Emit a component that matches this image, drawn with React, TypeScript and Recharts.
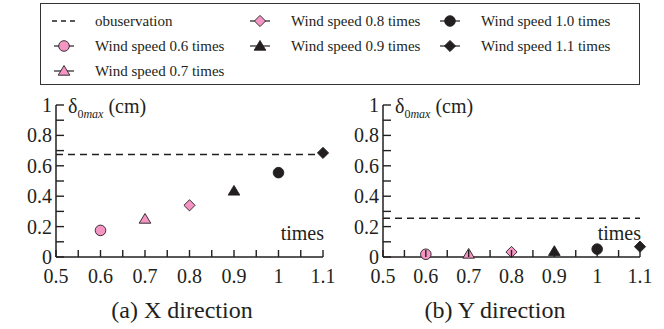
import React from 'react';
import { ScatterChart, Scatter, XAxis, YAxis, ReferenceLine } from 'recharts';

// ---------- data ----------
const windFactors = [0.6, 0.7, 0.8, 0.9, 1.0, 1.1];
const seriesNames = [
  'Wind speed 0.6 times',
  'Wind speed 0.7 times',
  'Wind speed 0.8 times',
  'Wind speed 0.9 times',
  'Wind speed 1.0 times',
  'Wind speed 1.1 times',
];
const xDirectionValues = [0.175, 0.25, 0.34, 0.435, 0.555, 0.685];
const yDirectionValues = [0.018, 0.02, 0.033, 0.038, 0.052, 0.068];
const observationX = 0.675;
const observationY = 0.255;
const observationName = 'obuservation';
const xTicks = [0.5, 0.55, 0.6, 0.65, 0.7, 0.75, 0.8, 0.85, 0.9, 0.95, 1.0, 1.05, 1.1];
const xTickLabels = ['0.5', '0.6', '0.7', '0.8', '0.9', '1', '1.1'];
const yTicks = [0, 0.1, 0.2, 0.3, 0.4, 0.5, 0.6, 0.7, 0.8, 0.9, 1.0];
const yTickLabels = ['0', '0.2', '0.4', '0.6', '0.8', '1'];
const subtitles = ['(a) X direction', '(b) Y direction'];
const xAxisName = 'times';

// ---------- styles ----------
const FONT = '"Liberation Serif", "Times New Roman", Times, "DejaVu Serif", serif';
const INK = '#231f20';
const PINK = '#f595c4';
const markerKinds = ['circle', 'triangle', 'diamond', 'triangle', 'circle', 'diamond'];
const markerFills = [PINK, PINK, PINK, INK, INK, INK];

const Marker = ({ cx, cy, kind, fill }: any) => {
  if (cx == null || cy == null) return null;
  const sw = 0.9;
  if (kind === 'circle') return <circle cx={cx} cy={cy} r={5.3} fill={fill} stroke={INK} strokeWidth={sw} />;
  if (kind === 'triangle')
    return (
      <polygon
        points={`${cx},${cy - 5.5} ${cx + 5.8},${cy + 4.2} ${cx - 5.8},${cy + 4.2}`}
        fill={fill}
        stroke={INK}
        strokeWidth={sw}
      />
    );
  return (
    <polygon
      points={`${cx},${cy - 5.6} ${cx + 5.6},${cy} ${cx},${cy + 5.6} ${cx - 5.6},${cy}`}
      fill={fill}
      stroke={INK}
      strokeWidth={sw}
    />
  );
};

const fmt = (v: number) => String(Number(v.toFixed(2)));

const XTick = (props: any) => {
  const { x, y, payload } = props;
  const label = fmt(payload.value);
  const major = xTickLabels.includes(label);
  return (
    <g>
      <line x1={x} y1={y} x2={x} y2={y - 7} stroke={INK} strokeWidth={1.4} />
      {major && (
        <text x={x} y={y + 26} textAnchor="middle" style={{ fontFamily: FONT, fontSize: 20 }} fill={INK}>
          {label}
        </text>
      )}
    </g>
  );
};

const YTick = (props: any) => {
  const { x, y, payload } = props;
  const label = fmt(payload.value);
  const major = yTickLabels.includes(label);
  return (
    <g>
      <line x1={x} y1={y} x2={x + 8} y2={y} stroke={INK} strokeWidth={1.4} />
      {major && (
        <text x={x - 4} y={y + 7} textAnchor="end" style={{ fontFamily: FONT, fontSize: 20 }} fill={INK}>
          {label}
        </text>
      )}
    </g>
  );
};

const YName = ({ viewBox }: any) => (
  <text x={viewBox.x + viewBox.width + 12} y={viewBox.y + 8} style={{ fontFamily: FONT, fontSize: 20 }} fill={INK}>
    <tspan>δ</tspan>
    <tspan style={{ fontSize: 12 }} dy={5}>0</tspan>
    <tspan style={{ fontSize: 12, fontStyle: 'italic' }}>max</tspan>
    <tspan dy={-5}> (cm)</tspan>
  </text>
);

const XName = ({ viewBox }: any) => (
  <text
    x={viewBox.x + viewBox.width + 1}
    y={viewBox.y - 17}
    textAnchor="end"
    style={{ fontFamily: FONT, fontSize: 20 }}
    fill={INK}
  >
    {xAxisName}
  </text>
);

const Panel = ({ values, obs, left, marginLeft, marginRight, width }: any) => (
  <ScatterChart
    width={width}
    height={329}
    margin={{ top: 105, bottom: 72 - 30, left: marginLeft - 40, right: marginRight }}
    style={{ position: 'absolute', left, top: 0 }}
  >
    <XAxis
      type="number"
      dataKey="x"
      domain={[0.5, 1.1]}
      ticks={xTicks}
      interval={0}
      height={30}
      tickSize={0}
      tickMargin={0}
      tickLine={false}
      axisLine={{ stroke: INK, strokeWidth: 1.5 }}
      tick={<XTick />}
      label={<XName />}
    />
    <YAxis
      type="number"
      dataKey="y"
      domain={[0, 1]}
      ticks={yTicks}
      interval={0}
      width={40}
      tickSize={0}
      tickMargin={0}
      tickLine={false}
      axisLine={{ stroke: INK, strokeWidth: 1.5 }}
      tick={<YTick />}
      label={<YName />}
    />
    <ReferenceLine y={obs} stroke={INK} strokeWidth={1.5} strokeDasharray="7 5" ifOverflow="extendDomain" />
    {windFactors.map((f, i) => (
      <Scatter
        key={seriesNames[i]}
        name={seriesNames[i]}
        data={[{ x: f, y: values[i] }]}
        isAnimationActive={false}
        shape={(p: any) => <Marker cx={p.cx} cy={p.cy} kind={markerKinds[i]} fill={markerFills[i]} />}
      />
    ))}
  </ScatterChart>
);

const LegendIcon = ({ kind, fill, dashed }: any) => (
  <svg width={26} height={14} style={{ display: 'block' }}>
    {dashed ? (
      <line x1={1} y1={7} x2={25} y2={7} stroke={INK} strokeWidth={1.4} strokeDasharray="5 4" />
    ) : (
      <>
        <line x1={3} y1={7} x2={23} y2={7} stroke={INK} strokeWidth={1.2} />
        <Marker cx={13} cy={7} kind={kind} fill={fill} />
      </>
    )}
  </svg>
);

const legendItems = [
  { name: observationName, dashed: true, col: 0, row: 0 },
  { name: seriesNames[0], i: 0, col: 0, row: 1 },
  { name: seriesNames[1], i: 1, col: 0, row: 2 },
  { name: seriesNames[2], i: 2, col: 1, row: 0 },
  { name: seriesNames[3], i: 3, col: 1, row: 1 },
  { name: seriesNames[4], i: 4, col: 2, row: 0 },
  { name: seriesNames[5], i: 5, col: 2, row: 1 },
];
const colX = [50, 246, 436];

const Legend = () => (
  <div
    style={{
      position: 'absolute',
      left: 40,
      top: 3,
      width: 598,
      height: 80,
      border: '1.5px solid #333',
      background: '#fff',
    }}
  >
    {legendItems.map((it: any) => (
      <div
        key={it.name}
        style={{
          position: 'absolute',
          left: colX[it.col] - 40,
          top: 8 + it.row * 25,
          display: 'flex',
          alignItems: 'center',
          height: 18,
          fontFamily: FONT,
          fontSize: 15,
          color: INK,
          whiteSpace: 'nowrap',
        }}
      >
        <LegendIcon dashed={it.dashed} kind={markerKinds[it.i]} fill={markerFills[it.i]} />
        <span style={{ marginLeft: 18 }}>{it.name}</span>
      </div>
    ))}
  </div>
);

export default function App() {
  return (
    <div
      style={{
        position: 'absolute',
        left: 0,
        top: 0,
        width: 664,
        height: 329,
        background: '#fff',
        overflow: 'hidden',
        fontFamily: FONT,
      }}
    >
      <Legend />
      <Panel values={xDirectionValues} obs={observationX} left={0} width={345} marginLeft={56} marginRight={22} />
      <Panel values={yDirectionValues} obs={observationY} left={332} width={332} marginLeft={51} marginRight={24} />
      {subtitles.map((s, i) => (
        <div
          key={s}
          style={{
            position: 'absolute',
            left: i === 0 ? 82 : 395,
            top: 296,
            width: 200,
            textAlign: 'center',
            fontFamily: FONT,
            fontSize: 24,
            color: INK,
            lineHeight: '28px',
          }}
        >
          {s}
        </div>
      ))}
    </div>
  );
}
